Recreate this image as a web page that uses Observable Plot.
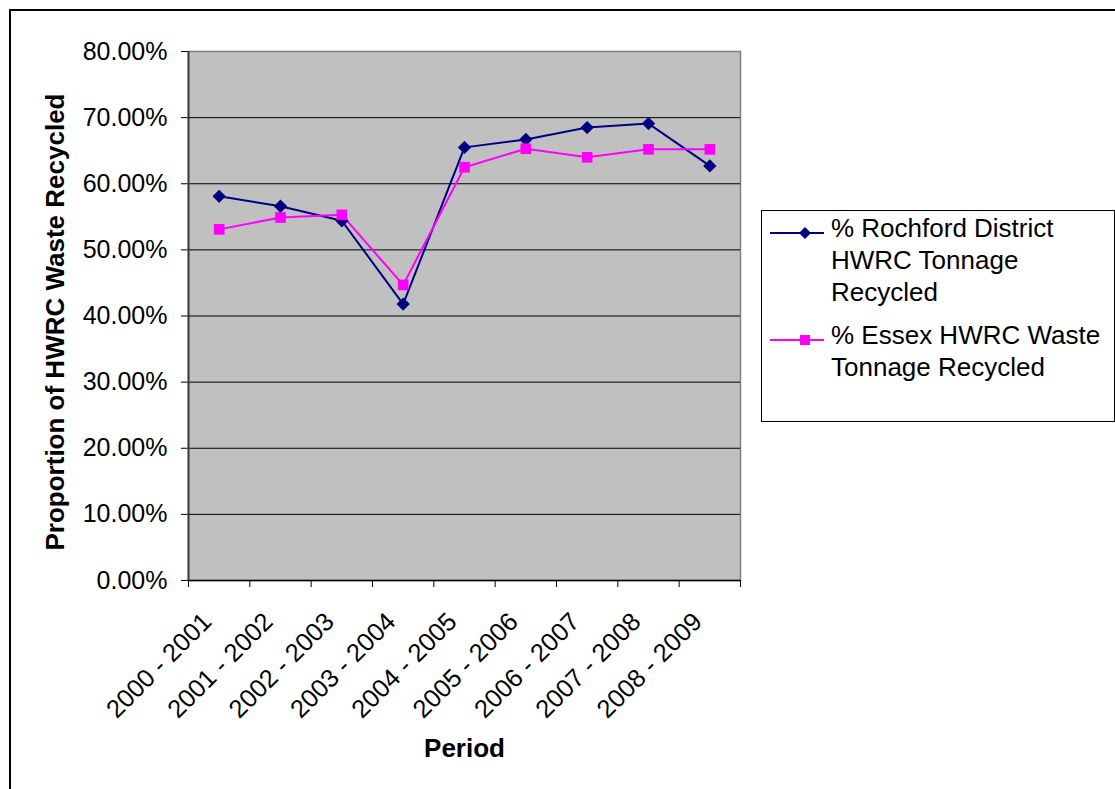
<!DOCTYPE html>
<html><head><meta charset="utf-8">
<script src="https://cdn.jsdelivr.net/npm/d3@7"></script>
<script src="https://cdn.jsdelivr.net/npm/@observablehq/plot@0.6"></script>
<style>
body{margin:0;background:#fff;font-family:"Liberation Sans",Arial,sans-serif;}
#wrap{position:relative;width:1115px;height:789px;overflow:hidden;}
#chart{position:absolute;left:0;top:0;}
#frame{position:absolute;left:9px;top:9px;width:1200px;height:900px;border:2.5px solid #000;box-sizing:border-box;pointer-events:none;}
#legend{position:absolute;left:761px;top:210px;width:354px;height:212px;border:1.5px solid #000;box-sizing:border-box;background:#fff;}
.entry{position:absolute;left:0;font-size:26px;line-height:32px;color:#000;}
.entry svg{position:absolute;left:8px;}
.entry .txt{position:absolute;left:69px;white-space:nowrap;}
</style></head><body>
<div id="wrap"><div id="chart"></div><div id="frame"></div><div id="legend"></div></div>
<script>
const periods = ["2000 - 2001","2001 - 2002","2002 - 2003","2003 - 2004","2004 - 2005","2005 - 2006","2006 - 2007","2007 - 2008","2008 - 2009"];
const rochford = [58.1,56.6,54.4,41.8,65.5,66.7,68.5,69.1,62.7];
const essex = [53.1,54.9,55.3,44.7,62.5,65.3,64.0,65.2,65.2];
const seriesNames = ["% Rochford District HWRC Tonnage Recycled","% Essex HWRC Waste Tonnage Recycled"];
const legendLines = [["% Rochford District","HWRC Tonnage","Recycled"],["% Essex HWRC Waste","Tonnage Recycled"]];
const seriesColors = ["#000080","#FF00FF"];
const seriesSymbols = ["diamond2","square"];
const yTicks = [0,10,20,30,40,50,60,70,80];
const yTitle = "Proportion of HWRC Waste Recycled";
const xTitle = "Period";

const data = [];
[rochford, essex].forEach((vals, s) => vals.forEach((v, i) => data.push({i: i + 0.5, period: periods[i], value: v, series: seriesNames[s]})));

const font = "'Liberation Sans', Arial, sans-serif";
const chart = Plot.plot({
  width: 1115, height: 789,
  marginLeft: 188, marginRight: 375, marginTop: 51, marginBottom: 209,
  style: {fontFamily: font, fontSize: "25px", background: "transparent", color: "#000"},
  x: {type: "linear", domain: [0, periods.length]},
  y: {domain: [0, 80]},
  color: {domain: seriesNames, range: seriesColors},
  symbol: {domain: seriesNames, range: seriesSymbols},
  marks: [
    Plot.frame({fill: "#C0C0C0", stroke: "#808080", strokeWidth: 1.5}),
    Plot.gridY(yTicks.slice(1, -1), {stroke: "#000", strokeOpacity: 1, strokeWidth: 1}),
    Plot.axisY({ticks: yTicks, tickFormat: d => d.toFixed(2) + "%", tickSize: 7, tickPadding: 14, label: null, fontSize: 25, stroke: "#000"}),
    Plot.axisX({ticks: d3.range(0, periods.length + 1), tickFormat: () => "", tickSize: 7, label: null, stroke: "#000"}),
    Plot.axisX({ticks: periods.map((_, i) => i + 0.5), tickFormat: d => periods[Math.floor(d)], tickSize: 0, tickRotate: -45, tickPadding: 37, dx: -12, label: null, fontSize: 25.5}),
    Plot.ruleX([0], {stroke: "#404040", strokeWidth: 2}),
    Plot.ruleY([0], {stroke: "#000", strokeWidth: 1.5}),
    Plot.line(data, {x: "i", y: "value", z: "series", stroke: "series", strokeWidth: 2}),
    Plot.dot(data, {x: "i", y: "value", fill: "series", symbol: "series", r: 6}),
    Plot.text([yTitle], {frameAnchor: "left", textAnchor: "middle", lineAnchor: "middle", rotate: -90, dx: -133, dy: 6, fontWeight: "bold", fontSize: 26}),
    Plot.text([xTitle], {frameAnchor: "bottom", lineAnchor: "middle", dy: 168, fontWeight: "bold", fontSize: 26})
  ]
});
document.getElementById("chart").appendChild(chart);

// legend
const legend = document.getElementById("legend");
const tops = [1, 108];
seriesNames.forEach((name, s) => {
  const e = document.createElement("div");
  e.className = "entry";
  e.style.top = tops[s] + "px";
  const sym = s === 0
    ? `<path d="M35,15 L41,21 L35,27 L29,21 Z" fill="${seriesColors[s]}"/>`
    : `<rect x="30" y="16" width="10" height="10" fill="${seriesColors[s]}"/>`;
  e.innerHTML = `<svg width="60" height="40" style="top:0px"><line x1="0" x2="54" y1="21" y2="21" stroke="${seriesColors[s]}" stroke-width="2"/>${sym}</svg><div class="txt">${legendLines[s].join("<br>")}</div>`;
  legend.appendChild(e);
});
</script>
</body></html>
